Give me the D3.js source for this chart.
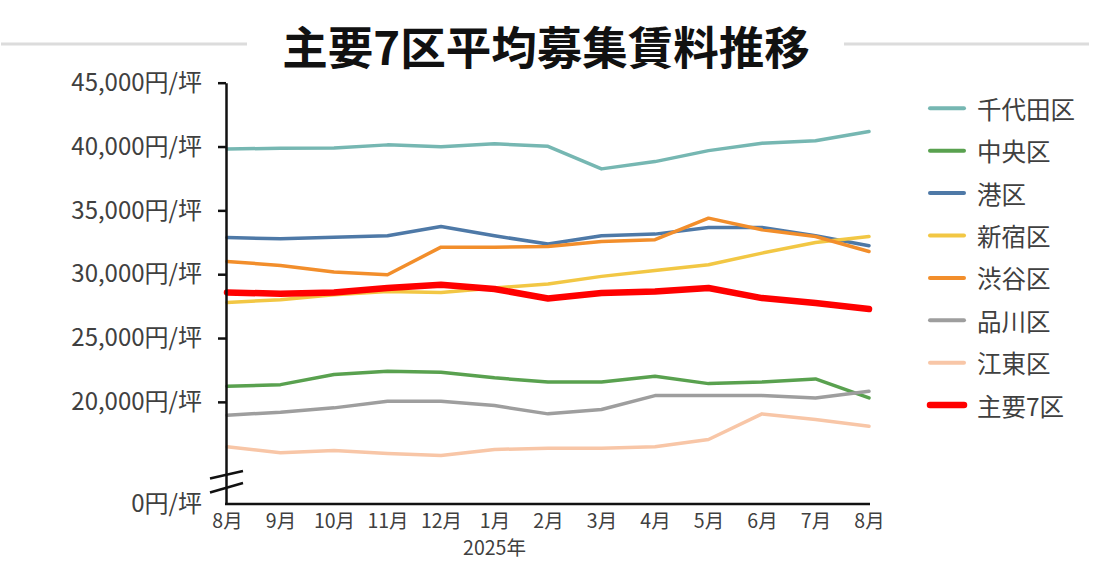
<!DOCTYPE html>
<html>
<head>
<meta charset="utf-8">
<script src="https://cdn.jsdelivr.net/npm/d3@7/dist/d3.min.js"></script>
<style>
  html, body { margin: 0; padding: 0; background: #fff; }
  svg { display: block; font-family: "Noto Sans CJK JP", "Noto Sans", sans-serif; }
</style>
</head>
<body>
<svg id="chart" width="1097" height="574"></svg>
<script>
const months = ["8月","9月","10月","11月","12月","1月","2月","3月","4月","5月","6月","7月","8月"];
const yearLabel = "2025年";
const seriesNames = ["千代田区","中央区","港区","新宿区","渋谷区","品川区","江東区","主要7区"];
const chiyoda   = [39800, 39870, 39890, 40130, 39990, 40210, 40020, 38250, 38820, 39680, 40260, 40460, 41170];
const chuo      = [21220, 21350, 22140, 22400, 22320, 21880, 21550, 21560, 22000, 21430, 21560, 21800, 20310];
const minato    = [32880, 32770, 32900, 33010, 33740, 33010, 32360, 33010, 33140, 33660, 33660, 33010, 32230];
const shinjuku  = [27790, 28000, 28390, 28650, 28570, 28920, 29230, 29830, 30290, 30740, 31650, 32480, 32950];
const shibuya   = [31000, 30690, 30170, 29960, 32120, 32120, 32170, 32560, 32700, 34390, 33480, 32950, 31780];
const shinagawa = [18950, 19190, 19530, 20050, 20050, 19710, 19060, 19400, 20490, 20490, 20490, 20310, 20830];
const koto      = [16480, 16010, 16190, 15960, 15800, 16270, 16370, 16370, 16480, 17050, 19060, 18620, 18090];
const major7    = [28570, 28470, 28570, 28920, 29180, 28840, 28100, 28520, 28650, 28920, 28130, 27740, 27270];
const yTickValues = [20000, 25000, 30000, 35000, 40000, 45000];
const yAxisMin = 12000;          // broken axis: bottom is labelled 0
const bottomLabel = "0円/坪";
const title = "主要7区平均募集賃料推移";

const seriesValues = [chiyoda, chuo, minato, shinjuku, shibuya, shinagawa, koto, major7];
const colors = ["#76b7b2", "#59a14f", "#4e79a7", "#f2c744", "#f28e2b", "#9e9e9e", "#f8c6a7", "#ff0000"];
const widths = [3.5, 3.5, 3.5, 3.5, 3.5, 3.5, 3.5, 6.5];

const svg = d3.select("#chart");

// Title with side rules
svg.append("line").attr("x1", 1).attr("x2", 247).attr("y1", 44).attr("y2", 44)
  .attr("stroke", "#dcdcdc").attr("stroke-width", 3);
svg.append("line").attr("x1", 844).attr("x2", 1089).attr("y1", 44).attr("y2", 44)
  .attr("stroke", "#dcdcdc").attr("stroke-width", 3);
svg.append("text").attr("x", 546).attr("y", 45)
  .attr("text-anchor", "middle").attr("dominant-baseline", "central")
  .attr("font-size", 45.5).attr("font-weight", 700).attr("fill", "#111")
  .text(title);

const axisX = 226, plotTop = 82.7, plotBottom = 504;
const x = d3.scalePoint().domain(d3.range(months.length)).range([227, 869]);
const y = d3.scaleLinear().domain([yAxisMin, 45000]).range([plotBottom, plotTop]);

// Lines
const line = d3.line().x((d, i) => x(i)).y(d => y(d));
const gLines = svg.append("g");
seriesValues.forEach((vals, k) => {
  gLines.append("path").datum(vals)
    .attr("d", line)
    .attr("fill", "none")
    .attr("stroke", colors[k])
    .attr("stroke-width", widths[k])
    .attr("stroke-linejoin", "round")
    .attr("stroke-linecap", "round");
});

// Y axis
const yAxis = d3.axisLeft(y)
  .tickValues([yAxisMin].concat(yTickValues))
  .tickSize(8).tickSizeOuter(0).tickPadding(16)
  .tickFormat(v => v === yAxisMin ? bottomLabel : d3.format(",")(v) + "円/坪");
const gy = svg.append("g").attr("transform", `translate(${axisX},0)`).call(yAxis);
gy.select(".domain").attr("stroke", "#111").attr("stroke-width", 2.5);
gy.selectAll(".tick line").attr("stroke", "#111").attr("stroke-width", 2.5);
gy.selectAll(".tick").filter(d => d === yAxisMin).select("line").remove();
gy.selectAll(".tick text").attr("font-size", 24).attr("fill", "#404040")
  .attr("font-family", "\"Noto Sans CJK JP\", sans-serif");

// X axis
const xAxis = d3.axisBottom(x).tickSize(0).tickPadding(10).tickFormat(i => months[i]);
const gx = svg.append("g").attr("transform", `translate(0,${plotBottom})`).call(xAxis);
gx.select(".domain").attr("d", `M${axisX - 1},0H870`).attr("stroke", "#111").attr("stroke-width", 2.5);
gx.selectAll(".tick text").attr("font-size", 19.5).attr("fill", "#404040")
  .attr("font-family", "\"Noto Sans CJK JP\", sans-serif");

svg.append("text").attr("x", x(5)).attr("y", 555)
  .attr("text-anchor", "middle").attr("font-size", 19.5).attr("fill", "#404040")
  .text(yearLabel);

// Axis break marks
const breakG = svg.append("g").attr("stroke", "#111").attr("stroke-width", 2.5).attr("fill", "none");
breakG.append("line").attr("x1", 210).attr("y1", 478.5).attr("x2", 243).attr("y2", 471);
breakG.append("line").attr("x1", 210).attr("y1", 492.5).attr("x2", 243).attr("y2", 483);

// Legend
const legend = svg.append("g");
seriesNames.forEach((name, k) => {
  const ly = 108.3 + k * 42.4;
  legend.append("line").attr("x1", 930).attr("x2", 964).attr("y1", ly).attr("y2", ly)
    .attr("stroke", colors[k]).attr("stroke-width", k === 7 ? 6.5 : 4).attr("stroke-linecap", "round");
  legend.append("text").attr("x", 977).attr("y", ly)
    .attr("dominant-baseline", "central").attr("font-size", 24.5).attr("fill", "#404040")
    .text(name);
});
</script>
</body>
</html>
